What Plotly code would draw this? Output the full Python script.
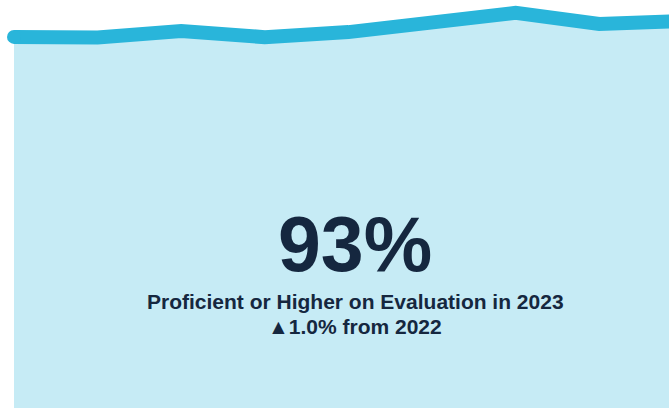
import plotly.graph_objects as go

years = [2015, 2016, 2017, 2018, 2019, 2020, 2021, 2022, 2023]
proficient_pct = [87.7, 87.5, 89.7, 87.6, 89.3, 92.6, 95.7, 92.0, 93.0]
headline = "93%"
subtitle = "Proficient or Higher on Evaluation in 2023"
change_text = "▲1.0% from 2022"

Y_MIN, Y_MAX = -36, 100
X_MIN, X_MAX = 2014.8325, 2022.835

LINE = "#29B5DA"
FILL = "#C6EBF5"
TEXT = "#15273F"
FONT = "Liberation Sans, Arial, sans-serif"

fig = go.Figure()
fig.add_trace(go.Scatter(x=years, y=[Y_MIN - 10] * len(years), mode="lines",
                         line=dict(width=0), hoverinfo="skip", showlegend=False))
fig.add_trace(go.Scatter(x=years, y=proficient_pct, mode="lines",
                         line=dict(color=LINE, width=14), fill="tonexty", fillcolor=FILL,
                         showlegend=False))
# round cap at the start of the line
fig.add_trace(go.Scatter(x=years[:1], y=proficient_pct[:1], mode="markers",
                         marker=dict(size=14, color=LINE, opacity=1, line=dict(width=0)),
                         hoverinfo="skip", showlegend=False))

fig.add_annotation(x=355 / 669, y=1 - 244 / 408, xref="paper", yref="paper",
                   text=f"<b>{headline}</b>", showarrow=False,
                   font=dict(family=FONT, size=77, color=TEXT), yanchor="middle")
fig.add_annotation(x=355 / 669, y=1 - 301.5 / 408, xref="paper", yref="paper",
                   text=f"<b>{subtitle}</b>", showarrow=False,
                   font=dict(family=FONT, size=21, color=TEXT), yanchor="middle")
fig.add_annotation(x=355 / 669, y=1 - 326 / 408, xref="paper", yref="paper",
                   text=f"<b>{change_text}</b>", showarrow=False,
                   font=dict(family=FONT, size=21, color=TEXT), yanchor="middle")

fig.update_layout(width=669, height=408, margin=dict(l=0, r=0, t=0, b=0),
                  paper_bgcolor="white", plot_bgcolor="white",
                  xaxis=dict(range=[X_MIN, X_MAX], visible=False, fixedrange=True),
                  yaxis=dict(range=[Y_MIN, Y_MAX], visible=False, fixedrange=True))

fig.write_html("out.html", config={"displayModeBar": False},
               post_script="document.body.style.margin='0';document.body.style.overflow='hidden';")
